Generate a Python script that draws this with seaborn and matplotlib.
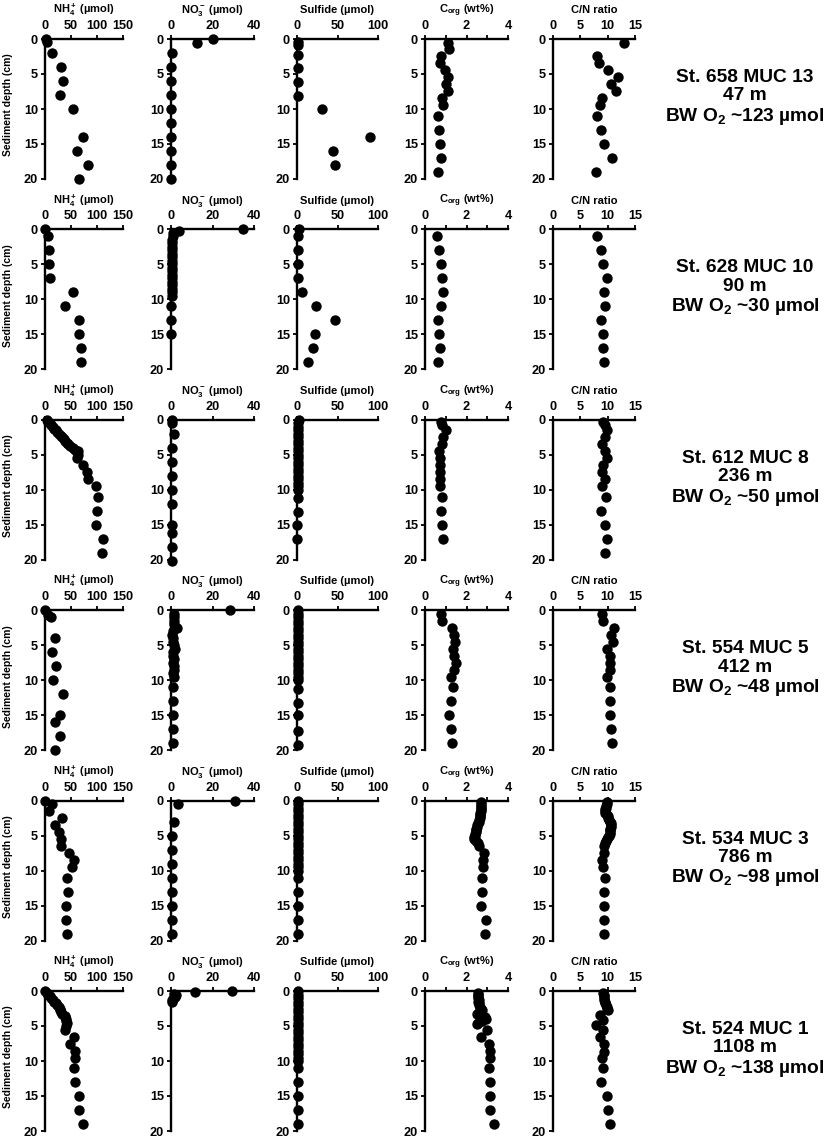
import matplotlib
matplotlib.use("Agg")
import matplotlib.pyplot as plt
from matplotlib.ticker import MultipleLocator
import seaborn as sns

# ---------------- DATA (depth in cm, values) ----------------
# St. 658 MUC 13
S658_NH4_D = [0, 0.4, 2, 4, 6, 8, 10, 14, 16, 18, 20]
S658_NH4 = [1, 3, 13, 31, 34, 29, 53, 73, 61, 83, 65]
S658_NO3_D = [0, 0.5, 2, 4, 6, 8, 10, 12, 14, 16, 18, 20]
S658_NO3 = [20, 12.5, 0.3, 0.2, 0.2, 0.2, 0.2, 0.2, 0.2, 0.2, 0.2, 0.2]
S658_SUL_D = [0.4, 0.9, 2.3, 4.2, 6.1, 8.1, 10, 14, 16, 18]
S658_SUL = [1, 1, 1, 1, 1, 1, 31, 90, 45, 47]
S658_CORG_D = [0.5, 1.5, 2.5, 3.5, 4.5, 5.5, 6.5, 7.5, 8.5, 9.5, 11, 13, 15, 17, 19]
S658_CORG = [1.1, 1.15, 0.75, 0.7, 0.95, 1.1, 1.0, 1.1, 0.8, 0.85, 0.65, 0.68, 0.7, 0.78, 0.62]
S658_CN_D = [0.5, 2.5, 3.5, 4.5, 5.5, 6.5, 7.5, 8.5, 9.5, 11, 13, 15, 17, 19]
S658_CN = [13, 8.1, 8.4, 10.1, 11.9, 10.7, 11.6, 8.9, 8.6, 8.0, 8.8, 9.3, 10.8, 7.9]

# St. 628 MUC 10
S628_NH4_D = [0, 1, 3, 5, 7, 9, 11, 13, 15, 17, 19]
S628_NH4 = [0, 6, 8, 8, 10, 54, 38, 65, 65, 70, 69]
S628_NO3_D = [0, 0.2, 0.5, 1, 1.5, 2, 2.5, 3, 3.5, 4, 4.5, 5, 5.5, 6, 6.5, 7, 7.5, 8, 8.5, 9, 9.5, 11, 13, 15]
S628_NO3 = [34.5, 4, 1.2, 0.8, 0.6, 0.5, 0.5, 0.5, 0.4, 0.4, 0.5, 0.4, 0.4, 0.3, 0.3, 0.4, 0.3, 0.3, 0.3, 0.3, 0.3, 0.2, 0.2, 0.2]
S628_SUL_D = [0, 1, 3, 5, 7, 9, 11, 13, 15, 17, 19]
S628_SUL = [2, 1, 1, 1, 1, 6, 24, 47, 22, 20, 14]
S628_CORG_D = [1, 3, 5, 7, 9, 11, 13, 15, 17, 19]
S628_CORG = [0.56, 0.67, 0.75, 0.83, 0.88, 0.75, 0.64, 0.69, 0.72, 0.64]
S628_CN_D = [1, 3, 5, 7, 9, 11, 13, 15, 17, 19]
S628_CN = [8.1, 8.8, 9.2, 9.8, 9.3, 9.5, 8.8, 9.1, 9.1, 9.3]

# St. 612 MUC 8
S612_NH4_D = [0, 0.25, 0.5, 0.75, 1.0, 1.25, 1.5, 1.75, 2.0, 2.25, 2.5, 2.75, 3.0, 3.25, 3.5,
              3.75, 4.0, 4.25, 4.5, 5.0, 5.5, 6.5, 7.5, 8.5, 9.5, 11, 13, 15, 17, 19]
S612_NH4 = [3, 6, 9, 12, 15, 18, 21, 24, 27, 30, 33, 36, 39, 42, 45,
            49, 53, 58, 63, 64, 62, 73, 80, 83, 99, 102, 100, 99, 112, 110]
S612_NO3_D = [0, 0.5, 2, 4, 6, 8, 10, 12, 15, 16.2, 18.2, 20.2]
S612_NO3 = [0.5, 0.5, 1.3, 0.3, 0.5, 0.3, 0.3, 0.3, 0.3, 0.3, 0.3, 0.3]
S612_SUL_D = [0, 0.5, 1, 1.5, 2, 2.5, 3, 3.5, 4, 4.5, 5, 5.5, 6, 6.5, 7, 7.5, 8, 8.5, 9, 9.5, 10,
              11.2, 13.2, 15, 17]
S612_SUL = [2, 1.8, 1.6, 1.5, 1.5, 1.4, 1.5, 1.3, 1.4, 1.2, 1.3, 1.2, 1.5, 1.2, 1.4, 1.3, 1.5, 1.2,
            1.4, 1.2, 1.0, 0.8, 0.8, 0.6, 0.6]
S612_CORG_D = [0.25, 0.75, 1.5, 2.5, 3.5, 4.5, 5.5, 6.5, 7.5, 8.5, 9.5, 11, 13, 15, 17]
S612_CORG = [0.75, 0.8, 1.0, 0.88, 0.83, 0.67, 0.72, 0.72, 0.72, 0.72, 0.72, 0.83, 0.75, 0.83, 0.88]
S612_CN_D = [0.25, 0.75, 1.5, 2.5, 3.5, 4.5, 5.5, 6.5, 7.5, 8.5, 9.5, 11, 13, 15, 17, 19]
S612_CN = [9.2, 9.5, 9.8, 9.6, 8.9, 9.5, 9.9, 9.2, 8.9, 9.5, 8.9, 9.7, 8.8, 9.5, 9.8, 9.5]

# St. 554 MUC 5
S554_NH4_D = [0, 0.75, 1.0, 4, 6, 8, 10, 12, 15, 16, 18, 20]
S554_NH4 = [0, 5, 12, 19, 13, 22, 16, 34, 29, 19, 29, 19]
S554_NO3_D = [0, 0.5, 1, 1.5, 2, 2.5, 3, 3.5, 4, 4.5, 5, 5.5, 6, 6.5, 7, 7.5, 8, 8.5, 9, 9.5,
              11, 13, 15, 17, 19]
S554_NO3 = [28.5, 1.5, 1.3, 1.5, 1.3, 2.9, 1.2, 0.5, 0.8, 1.2, 1.5, 2.0, 1.2, 1.0, 1.4, 1.1, 1.5,
            1.6, 1.2, 1.4, 1.2, 1.0, 0.8, 1.1, 1.2]
S554_SUL_D = [0, 0.5, 1, 1.5, 2, 2.5, 3, 3.5, 4, 4.5, 5, 5.5, 6, 6.5, 7, 7.5, 8, 8.5, 9, 9.5, 10,
              11.2, 13.2, 15, 17.2, 19.2]
S554_SUL = [1.5, 1.6, 1.4, 1.5, 1.3, 1.4, 1.5, 1.3, 1.4, 1.3, 1.2, 1.4, 1.3, 1.5, 1.2, 1.4, 1.3,
            1.2, 1.4, 1.2, 1.1, 0.9, 0.9, 0.8, 0.8, 0.8]
S554_CORG_D = [0.5, 1.5, 2.5, 3.5, 4.5, 5.5, 6.5, 7.5, 8.5, 9.5, 11, 13, 15, 17, 19]
S554_CORG = [0.75, 0.83, 1.3, 1.4, 1.44, 1.36, 1.4, 1.47, 1.39, 1.25, 1.36, 1.23, 1.17, 1.23, 1.28]
S554_CN_D = [0.5, 1.5, 2.5, 3.5, 4.5, 5.5, 6.5, 7.5, 8.5, 9.5, 11, 13, 15, 17, 19]
S554_CN = [8.9, 9.2, 11.1, 10.6, 11.0, 9.8, 10.5, 10.4, 10.5, 9.9, 10.4, 10.4, 10.5, 10.6, 10.8]

# St. 534 MUC 3
S534_NH4_D = [0, 0.5, 1.5, 2.5, 3.5, 4.5, 5.5, 6.5, 7.5, 8.5, 9.5, 11, 13, 15, 17, 19]
S534_NH4 = [0, 13, 8, 32, 19, 27, 30, 30, 46, 56, 51, 43, 45, 41, 40, 43]
S534_NO3_D = [0, 0.5, 3, 5, 7, 9, 11, 13, 15, 17, 19]
S534_NO3 = [31, 3.2, 1.3, 0.5, 0.5, 0.5, 0.5, 0.5, 0.5, 0.5, 0.5]
S534_SUL_D = [0, 0.5, 1, 1.5, 2, 2.5, 3, 3.5, 4, 4.5, 5, 5.5, 6, 6.5, 7, 7.5, 8, 8.5, 9, 9.5, 10,
              11, 13, 15, 17, 19]
S534_SUL = [1.5, 1.6, 1.5, 1.4, 1.5, 1.3, 1.4, 1.5, 1.3, 1.4, 1.3, 1.5, 1.2, 1.4, 1.3, 1.2, 1.4,
            1.3, 1.2, 1.3, 1.1, 0.9, 0.8, 0.8, 0.8, 0.7]
S534_CORG_D = [0.25, 0.5, 0.75, 1.0, 1.25, 1.5, 1.75, 2.0, 2.25, 2.5, 2.75, 3.0, 3.25, 3.5, 3.75,
               4.0, 4.25, 4.5, 4.75, 5.0, 5.25, 5.5, 5.75, 6.0, 6.5, 7.5, 8.5, 9.5, 11, 13, 15, 17, 19]
S534_CORG = [2.72, 2.72, 2.7, 2.71, 2.7, 2.68, 2.67, 2.66, 2.65, 2.63, 2.6, 2.58, 2.55, 2.52, 2.5,
             2.48, 2.46, 2.44, 2.42, 2.4, 2.38, 2.37, 2.45, 2.55, 2.6, 2.83, 2.8, 2.8, 2.75, 2.75,
             2.7, 2.96, 2.88]
S534_CN_D = [0.25, 0.5, 0.75, 1.0, 1.25, 1.5, 1.75, 2.0, 2.25, 2.5, 2.75, 3.0, 3.25, 3.5, 3.75,
             4.0, 4.25, 4.5, 4.75, 5.0, 5.25, 5.5, 5.75, 6.0, 6.5, 7.5, 8.5, 9.5, 11, 13, 15, 17, 19]
S534_CN = [9.8, 9.8, 9.7, 9.7, 9.6, 9.5, 9.6, 9.8, 10.0, 10.1, 10.3, 10.5, 10.6, 10.7, 10.6,
           10.5, 10.5, 10.4, 10.4, 10.3, 10.1, 9.9, 9.7, 9.6, 9.4, 9.4, 9.0, 9.1, 9.5, 9.4, 9.4,
           9.4, 9.4]

# St. 524 MUC 1
S524_NH4_D = [0, 0.25, 0.5, 0.75, 1.0, 1.25, 1.5, 1.75, 2.0, 2.25, 2.5, 2.75, 3.0, 3.25, 3.5,
              3.75, 4.0, 4.25, 4.5, 5.0, 5.5, 6.5, 7.5, 8.5, 9.5, 11, 13, 15, 17, 19]
S524_NH4 = [0, 3, 6, 9, 12, 15, 18, 21, 23, 26, 28, 29, 30, 32, 38,
            39, 40, 41, 42, 40, 38, 56, 49, 57, 57, 56, 57, 65, 65, 73]
S524_NO3_D = [0, 0.15, 0.4, 0.6, 0.85, 1.1, 1.3, 1.6]
S524_NO3 = [29.5, 11.7, 1.5, 2.2, 1.8, 1.0, 0.6, 0.5]
S524_SUL_D = [0, 0.5, 1, 1.5, 2, 2.5, 3, 3.5, 4, 4.5, 5, 5.5, 6, 6.5, 7, 7.5, 8, 8.5, 9, 9.5, 10,
              11, 13, 15, 17, 19]
S524_SUL = [1.5, 1.6, 1.5, 1.4, 1.5, 1.4, 1.3, 1.5, 1.4, 1.3, 1.4, 1.5, 1.3, 1.4, 1.2, 1.4, 1.3,
            1.4, 1.2, 1.3, 1.2, 0.9, 0.8, 0.8, 0.8, 0.8]
S524_CORG_D = [0.25, 0.5, 0.75, 1.0, 1.25, 1.5, 1.75, 2.0, 2.25, 2.5, 2.75, 3.0, 3.25, 3.5, 3.75,
               4.0, 4.25, 4.5, 4.75, 5.5, 6.5, 7.5, 8.5, 9.5, 11, 13, 15, 17, 19]
S524_CORG = [2.56, 2.55, 2.57, 2.56, 2.58, 2.57, 2.6, 2.62, 2.65, 2.72, 2.75, 2.62, 2.5, 2.8, 2.9,
             2.95, 2.75, 2.55, 2.5, 3.0, 2.72, 3.1, 3.15, 3.12, 3.1, 3.12, 3.15, 3.12, 3.33]
S524_CN_D = [0.25, 0.5, 0.75, 1.0, 1.25, 1.5, 1.75, 2.0, 2.25, 2.5, 2.75, 3.4, 4.2, 4.9, 5.5,
             6.6, 7.6, 8.7, 9.6, 11, 13, 15, 17, 19]
S524_CN = [9.2, 9.25, 9.3, 9.35, 9.4, 9.5, 9.6, 9.7, 9.8, 9.9, 10.0, 8.6, 9.2, 7.9, 9.2,
           8.6, 9.4, 9.4, 8.9, 9.2, 8.8, 9.9, 10.1, 10.5]

STATION_LABELS = [
    "St. 658 MUC 13\n47 m\nBW O$_2$ ~123 µmol",
    "St. 628 MUC 10\n90 m\nBW O$_2$ ~30 µmol",
    "St. 612 MUC 8\n236 m\nBW O$_2$ ~50 µmol",
    "St. 554 MUC 5\n412 m\nBW O$_2$ ~48 µmol",
    "St. 534 MUC 3\n786 m\nBW O$_2$ ~98 µmol",
    "St. 524 MUC 1\n1108 m\nBW O$_2$ ~138 µmol",
]
COL_TITLES = ["NH$_4^+$ (µmol)", "NO$_3^-$ (µmol)", "Sulfide (µmol)", "C$_{org}$ (wt%)", "C/N ratio"]
COL_XMAX = [150, 40, 100, 4, 15]
COL_XTICKS = [[0, 50, 100, 150], [0, 20, 40], [0, 50, 100], [0, 2, 4], [0, 5, 10, 15]]
DEPTH_TICKS = [0, 5, 10, 15, 20]

ROWS = [
    [(S658_NH4, S658_NH4_D), (S658_NO3, S658_NO3_D), (S658_SUL, S658_SUL_D), (S658_CORG, S658_CORG_D), (S658_CN, S658_CN_D)],
    [(S628_NH4, S628_NH4_D), (S628_NO3, S628_NO3_D), (S628_SUL, S628_SUL_D), (S628_CORG, S628_CORG_D), (S628_CN, S628_CN_D)],
    [(S612_NH4, S612_NH4_D), (S612_NO3, S612_NO3_D), (S612_SUL, S612_SUL_D), (S612_CORG, S612_CORG_D), (S612_CN, S612_CN_D)],
    [(S554_NH4, S554_NH4_D), (S554_NO3, S554_NO3_D), (S554_SUL, S554_SUL_D), (S554_CORG, S554_CORG_D), (S554_CN, S554_CN_D)],
    [(S534_NH4, S534_NH4_D), (S534_NO3, S534_NO3_D), (S534_SUL, S534_SUL_D), (S534_CORG, S534_CORG_D), (S534_CN, S534_CN_D)],
    [(S524_NH4, S524_NH4_D), (S524_NO3, S524_NO3_D), (S524_SUL, S524_SUL_D), (S524_CORG, S524_CORG_D), (S524_CN, S524_CN_D)],
]

# ---------------- STYLE ----------------
sns.set_style("ticks")
plt.rcParams["font.family"] = ["Liberation Sans", "DejaVu Sans"]
plt.rcParams["font.weight"] = "bold"
plt.rcParams["text.color"] = "black"
plt.rcParams["axes.labelcolor"] = "black"
plt.rcParams["xtick.color"] = "black"
plt.rcParams["ytick.color"] = "black"
plt.rcParams["axes.edgecolor"] = "black"
plt.rcParams["mathtext.fontset"] = "custom"
plt.rcParams["mathtext.rm"] = "Liberation Sans:bold"
plt.rcParams["mathtext.bf"] = "Liberation Sans:bold"
plt.rcParams["mathtext.it"] = "Liberation Sans:bold:italic"
plt.rcParams["mathtext.default"] = "rm"

W, H = 826, 1140
fig = plt.figure(figsize=(W / 100, H / 100), dpi=100)

COL_LEFT = [45, 171, 297, 425, 553]
COL_W = [78, 83, 81, 83, 82]
ROW_TOP0, ROW_STEP, AX_H = 39, 190.4, 140

for r, row in enumerate(ROWS):
    top = ROW_TOP0 + r * ROW_STEP
    for c, (vals, depths) in enumerate(row):
        ax = fig.add_axes([COL_LEFT[c] / W, 1 - (top + AX_H) / H, COL_W[c] / W, AX_H / H])
        sns.scatterplot(x=vals, y=depths, ax=ax, color="black", s=56, linewidth=0,
                        clip_on=False, legend=False, zorder=4)
        ax.set_xlim(0, COL_XMAX[c])
        ax.set_ylim(20, 0)
        ax.xaxis.tick_top()
        ax.set_xticks(COL_XTICKS[c])
        ax.set_yticks(DEPTH_TICKS)
        if c == 3:
            ax.xaxis.set_minor_locator(MultipleLocator(1))
            ax.tick_params(axis="x", which="minor", direction="out", length=3, width=1.3, top=True, bottom=False)
        ax.set_xlabel("")
        ax.set_ylabel("")
        for s in ["right", "bottom"]:
            ax.spines[s].set_visible(False)
        for s in ["top", "left"]:
            ax.spines[s].set_linewidth(1.7)
            ax.spines[s].set_color("black")
        ax.tick_params(axis="both", which="major", direction="out", length=3, width=1.3,
                       labelsize=9.2, pad=2, colors="black")
        ax.set_title(COL_TITLES[c], fontsize=8, fontweight="bold", pad=5, color="black")
        ax.set_facecolor("white")
        ax.grid(False)
    fig.text(8 / W, 1 - (top + 66) / H, "Sediment depth (cm)", rotation=90, ha="center",
             va="center", fontsize=7.5, fontweight="bold", color="black")
    fig.text(745 / W, 1 - (top + 59) / H, STATION_LABELS[r], ha="center", va="center",
             fontsize=13.8, fontweight="bold", linespacing=1.1, color="black")

fig.savefig("out.png", dpi=100, facecolor="white")
